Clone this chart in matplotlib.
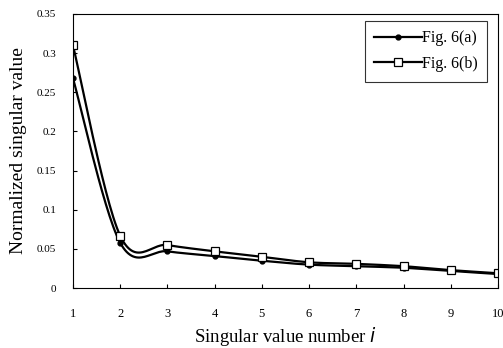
import matplotlib
matplotlib.use("Agg")
import matplotlib.pyplot as plt
import numpy as np

# data
idx = [1, 2, 3, 4, 5, 6, 7, 8, 9, 10]
fig6a = [0.268, 0.058, 0.047, 0.041, 0.035, 0.030, 0.028, 0.026, 0.022, 0.018]
fig6b = [0.310, 0.067, 0.055, 0.047, 0.040, 0.033, 0.031, 0.028, 0.023, 0.019]
yticks = [0, 0.05, 0.1, 0.15, 0.2, 0.25, 0.3, 0.35]
yticklabels = ["0", "0.05", "0.1", "0.15", "0.2", "0.25", "0.3", "0.35"]


def smooth(x, y, n=30):
	# Excel-like smoothed line (Catmull-Rom via cubic Bezier)
	x = np.asarray(x, float)
	y = np.asarray(y, float)
	px = np.concatenate([[x[0]], x, [x[-1]]])
	py = np.concatenate([[y[0]], y, [y[-1]]])
	xs, ys = [], []
	t = np.linspace(0, 1, n)
	for i in range(1, len(px) - 2):
		p0 = np.array([px[i], py[i]])
		p3 = np.array([px[i + 1], py[i + 1]])
		p1 = p0 + (np.array([px[i + 1], py[i + 1]]) - np.array([px[i - 1], py[i - 1]])) / 6
		p2 = p3 - (np.array([px[i + 2], py[i + 2]]) - np.array([px[i], py[i]])) / 6
		b = ((1 - t) ** 3)[:, None] * p0 + (3 * (1 - t) ** 2 * t)[:, None] * p1 \
			+ (3 * (1 - t) * t ** 2)[:, None] * p2 + (t ** 3)[:, None] * p3
		xs.extend(b[:, 0])
		ys.extend(b[:, 1])
	return xs, ys


plt.rcParams["font.family"] = "Liberation Serif"

fig = plt.figure(figsize=(5.03, 3.48), dpi=100)
ax = fig.add_axes([0.145, 0.172, 0.845, 0.788])

sx, sy = smooth(idx, fig6a)
ax.plot(sx, sy, color="black", lw=1.6)
ax.plot(idx, fig6a, ls="none", marker="o", ms=3.5, color="black")
sx, sy = smooth(idx, fig6b)
ax.plot(sx, sy, color="black", lw=1.6)
ax.plot(idx, fig6b, ls="none", marker="s", ms=6, mfc="white", mec="black", mew=0.9)

# legend proxies
ax.plot([], [], color="black", lw=1.6, marker="o", ms=3.5, label="Fig. 6(a)")
ax.plot([], [], color="black", lw=1.6, marker="s", ms=6, mfc="white", mec="black",
	mew=0.9, label="Fig. 6(b)")
handles, labels = ax.get_legend_handles_labels()
leg = ax.legend(handles, labels, loc="upper right", bbox_to_anchor=(0.975, 0.975),
	fontsize=11.5, frameon=True, fancybox=False, handlelength=3.0, handletextpad=0.0,
	borderpad=0.6, labelspacing=0.6, borderaxespad=0)
leg.get_frame().set_edgecolor("black")
leg.get_frame().set_linewidth(0.8)

ax.set_xlim(1, 10)
ax.set_ylim(0, 0.35)
ax.set_xticks(idx)
ax.set_yticks(yticks)
ax.set_yticklabels(yticklabels)
ax.tick_params(direction="in", length=3, width=0.8, labelsize=8)
ax.tick_params(axis="y", pad=12)
ax.tick_params(axis="x", pad=14, labelsize=9)
for s in ax.spines.values():
	s.set_linewidth(0.8)

ax.set_xlabel("Singular value number $\\it{i}$", fontsize=13.5, labelpad=4)
ax.set_ylabel("Normalized singular value", fontsize=14, labelpad=7)

fig.savefig("out.png", dpi=100)
